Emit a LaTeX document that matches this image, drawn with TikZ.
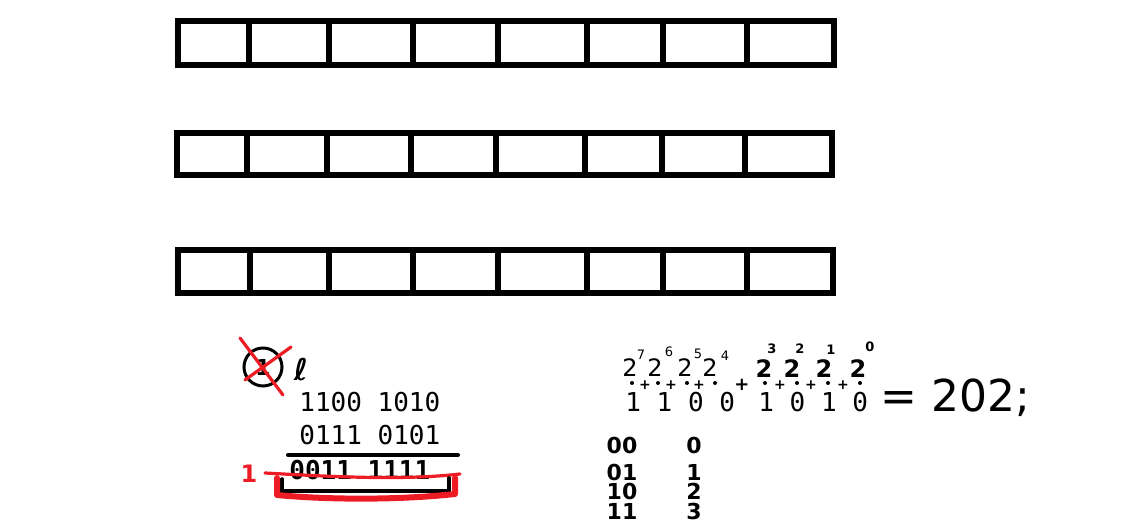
\documentclass[tikz,border=0pt]{standalone}
\usepackage{amsmath,amssymb}
\usepackage{fontspec}
\setsansfont{DejaVu Sans}
\setmonofont{DejaVu Sans Mono}
\usepackage{xcolor}
\usepackage{tikz}
\usetikzlibrary{positioning}
\definecolor{penred}{RGB}{237,28,36}

\begin{document}
\begin{tikzpicture}[
  x=0.5pt, y=-0.5pt,
  cell/.style={draw, line width=2.6pt},
  bits/.style={font=\ttfamily\fontsize{13}{13}\selectfont, inner sep=0pt, anchor=base west},
  hand/.style={font=\sffamily\bfseries\fontsize{11}{11}\selectfont, inner sep=0pt},
  pw/.style={font=\sffamily\fontsize{12}{12}\selectfont, inner sep=0pt, anchor=base},
  bpw/.style={font=\sffamily\bfseries\fontsize{12}{12}\selectfont, inner sep=0pt, anchor=base},
  ex/.style={font=\sffamily\fontsize{6.5}{6.5}\selectfont, inner sep=0pt},
  plus/.style={font=\sffamily\bfseries\fontsize{7}{7}\selectfont, inner sep=0pt},
  redpen/.style={draw=penred, line width=1.6pt, line cap=round, line join=round},
  blackpen/.style={draw, line width=1.8pt, line cap=round}
]
  \useasboundingbox (0,0) rectangle (1142,529);

  % Registers
  \foreach \top/\bot/\xl/\xr/\cols in {
      21/65/178/834/{249,329,413,498,587,663,747},
      133/175/177/832/{247,327,411,496,585,662,745},
      250/293/178/833/{250,329,413,498,587,663,747}} {
    \draw[cell] (\xl,\top) rectangle (\xr,\bot);
    \foreach \c in \cols
      \draw[cell] (\c,\top) -- (\c,\bot);
  }

  % Addition
  \node[circle, draw, line width=1.5pt, minimum size=19pt, inner sep=0pt,
        font=\sffamily\bfseries\fontsize{11}{11}\selectfont] (carry) at (263,367) {1};
  \draw[redpen] (240,338) -- (283,395);
  \draw[redpen] (291,347) -- (245,380);
  \node[font=\sffamily\bfseries\fontsize{15}{15}\selectfont, inner sep=0pt] (carrymark) at (301,370) {ℓ};
  \node[bits] (rowa) at (299,412) {1100 1010};
  \node[bits] (rowb) at (299,445) {0111 0101};
  \draw[blackpen, line width=2pt] (288,455) -- (458,455);
  \node[bits, font=\ttfamily\bfseries\fontsize{13}{13}\selectfont] (total) at (289,480) {0011 1111};
  \node[font=\sffamily\bfseries\fontsize{12}{12}\selectfont, text=penred, inner sep=0pt, anchor=base] (carryout) at (249,483) {1};
  \draw[redpen] (265,473) .. controls (320,476) and (400,481) .. (460,474);
  \draw[blackpen] (282,479) -- (282,491) -- (449,491) -- (449,478);
  \draw[redpen, line width=3pt] (277,478) -- (277,495) .. controls (330,500) and (400,500) .. (455,494) -- (455,478);

  % Place values
  \node[bits] (hi) at (625,412) {1 1 0 0};
  \node[bits] (lo) at (758,412) {1 0 1 0};
  \foreach \x/\ex/\ey/\e in {630/641/355/7, 655/669/352/6, 685/698/354/5, 710/725/356/4} {
    \node[pw] (two\e) at (\x,377) {2};
    \node[ex] (exp\e) at (\ex,\ey) {\e};
  }
  \foreach \x/\ex/\ey/\e in {764/772/349/3, 792/800/349/2, 824/831/350/1, 858/870/347/0} {
    \node[bpw] (two\e) at (\x,378) {2};
    \node[ex, font=\sffamily\bfseries\fontsize{6.5}{6.5}\selectfont] (exp\e) at (\ex,\ey) {\e};
  }
  \foreach \x/\n in {645/a, 671/b, 699/c, 780/d, 811/e, 843/f}
    \node[plus] (plus\n) at (\x,385) {+};
  \node[plus, font=\sffamily\bfseries\fontsize{9}{9}\selectfont] (join) at (742,385) {+};
  \foreach \x in {632,658,687,715,765,797,828,860}
    \fill (\x,383) circle (1pt);
  \node[font=\sffamily\fontsize{22}{22}\selectfont, inner sep=0pt, anchor=base west] (result) at (880,412) {= 202;};

  % Two bits
  \foreach \y/\b/\d/\n in {445/00/0/0, 472/01/1/1, 491/10/2/2, 511/11/3/3} {
    \node[hand] (pair\n) at (622,\y) {\b};
    \node[hand] (dec\n) at (694,\y) {\d};
  }

\end{tikzpicture}
\end{document}
